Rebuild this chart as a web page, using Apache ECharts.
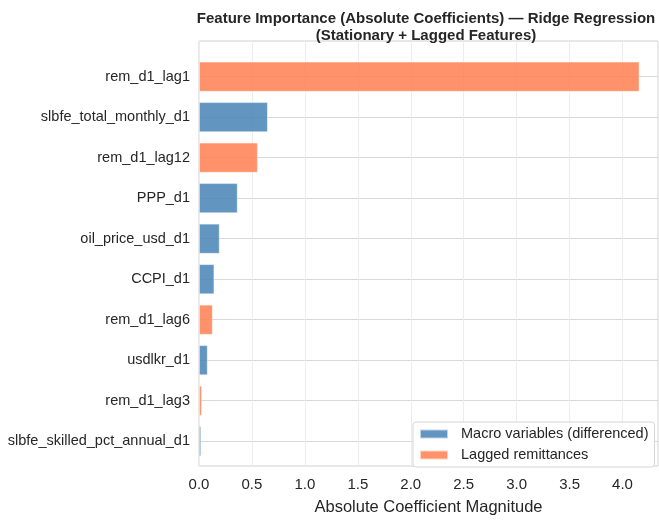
<!DOCTYPE html>
<html>
<head>
<meta charset="utf-8">
<script src="https://cdn.jsdelivr.net/npm/echarts@6/dist/echarts.min.js"></script>
<style>
html,body{margin:0;padding:0;background:#fff;}
#chart{width:659px;height:521px;}
</style>
</head>
<body>
<div id="chart"></div>
<script>
const categories = ["rem_d1_lag1","slbfe_total_monthly_d1","rem_d1_lag12","PPP_d1","oil_price_usd_d1","CCPI_d1","rem_d1_lag6","usdlkr_d1","rem_d1_lag3","slbfe_skilled_pct_annual_d1"];
const values = [4.16, 0.65, 0.555, 0.365, 0.195, 0.145, 0.13, 0.082, 0.027, 0.02];
const groups = ["lag","macro","lag","macro","macro","macro","lag","macro","lag","macro"];
const xTicks = [0.0,0.5,1.0,1.5,2.0,2.5,3.0,3.5,4.0];
const seriesNames = ["Macro variables (differenced)","Lagged remittances"];

const macroData = values.map((v,i)=> groups[i]==="macro" ? v : '-');
const lagData = values.map((v,i)=> groups[i]==="lag" ? v : '-');

const FONT = '"Liberation Sans", Arial, sans-serif';
const TXT = '#262626';
const XMAX = 4.335;

const chart = echarts.init(document.getElementById('chart'), null, {renderer:'canvas'});
chart.setOption({
  animation:false,
  backgroundColor:'#ffffff',
  textStyle:{fontFamily:FONT},
  title:{
    text:'Feature Importance (Absolute Coefficients) — Ridge Regression\n(Stationary + Lagged Features)',
    left:421, top:5, textAlign:'center',
    textStyle:{fontFamily:FONT,fontSize:15,fontWeight:'bold',color:TXT,lineHeight:17}
  },
  legend:{
    orient:'vertical', left:413, top:422,
    padding:[4,6,4,6], itemGap:5, itemWidth:28, itemHeight:9, icon:'rect',
    backgroundColor:'#ffffff', borderColor:'#d6d6d6', borderWidth:1, borderRadius:3,
    textStyle:{fontFamily:FONT,fontSize:14.5,color:TXT,lineHeight:16,padding:[0,0,0,8]},
    data:seriesNames
  },
  grid:[
    {left:199,right:1,top:41,bottom:45,show:true,borderColor:'#d0d0d0',borderWidth:1,backgroundColor:'transparent'},
    {left:199,right:1,top:76.7,height:364.5,show:false}
  ],
  xAxis:[
    {gridIndex:0,type:'value',min:0,max:XMAX,interval:0.5,
     axisLine:{show:false},axisTick:{show:false},
     splitLine:{show:true,lineStyle:{color:'#ececec',width:1}},
     axisLabel:{showMaxLabel:false,fontFamily:FONT,fontSize:15,color:TXT,margin:11,
       formatter:(v)=> xTicks.some(t=>Math.abs(t-v)<1e-6) ? v.toFixed(1) : ''},
     name:'Absolute Coefficient Magnitude',nameLocation:'middle',nameGap:33,
     nameTextStyle:{fontFamily:FONT,fontSize:16.5,color:TXT}
    },
    {gridIndex:1,type:'value',min:0,max:XMAX,show:false,splitLine:{show:false}}
  ],
  yAxis:[
    {gridIndex:0,type:'value',min:0,max:1,show:false,splitLine:{show:false}},
    {gridIndex:1,type:'category',data:categories,inverse:true,boundaryGap:false,
     axisLine:{show:false},axisTick:{show:false},
     axisLabel:{fontFamily:FONT,fontSize:14.5,color:TXT,margin:9,interval:0},
     splitLine:{show:true,interval:0,lineStyle:{color:'#d9d9d9',width:1}}
    }
  ],
  series:[
    {name:seriesNames[0],type:'bar',xAxisIndex:1,yAxisIndex:1,data:macroData,
     barWidth:30,barGap:'-100%',clip:false,
     itemStyle:{color:'rgba(70,130,180,0.85)',borderColor:'rgba(255,255,255,0.6)',borderWidth:0.8}},
    {name:seriesNames[1],type:'bar',xAxisIndex:1,yAxisIndex:1,data:lagData,
     barWidth:30,barGap:'-100%',clip:false,
     itemStyle:{color:'rgba(255,127,80,0.85)',borderColor:'rgba(255,255,255,0.6)',borderWidth:0.8}}
  ]
});
</script>
</body>
</html>
